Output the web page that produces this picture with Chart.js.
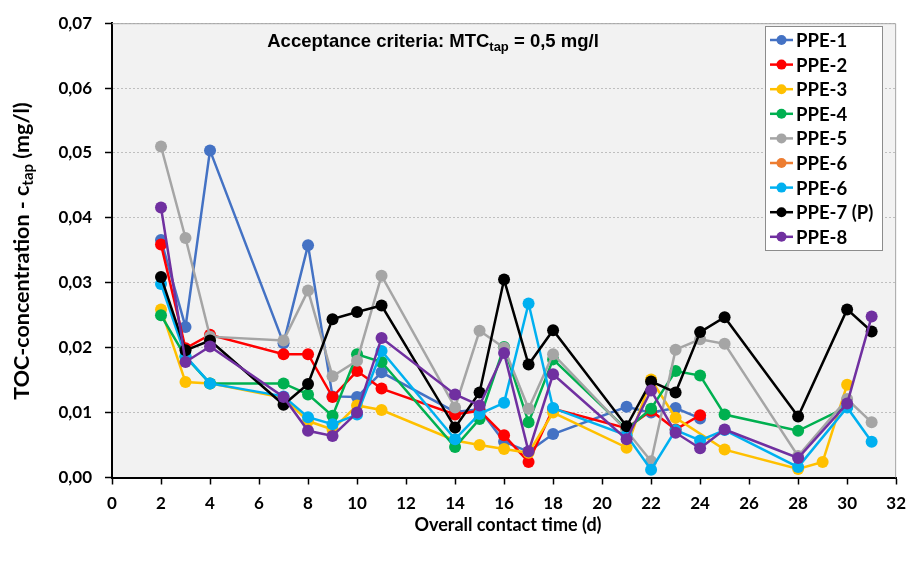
<!DOCTYPE html>
<html>
<head>
<meta charset="utf-8">
<script src="https://cdn.jsdelivr.net/npm/chart.js@4.4.1/dist/chart.umd.min.js"></script>
<style>
  html, body { margin: 0; background: #fff; }
  #wrap { width: 915px; height: 565px; }
</style>
</head>
<body>
<div id="wrap"><canvas id="toc" width="915" height="565"></canvas></div>
<script>
// Contact time (days) at which tap water samples were taken
const days = [2, 3, 4, 7, 8, 9, 10, 11, 14, 15, 16, 17, 18, 21, 22, 23, 24, 25, 28, 29, 30, 31];

// TOC concentration c_tap (mg/l) per pipe sample, null = not measured
const ppe1  = [0.0366, 0.0232, 0.0504, 0.0207, 0.0358, 0.0125, 0.0124, 0.0162, 0.0101, 0.0105, 0.0055, 0.0040, 0.0067, 0.0109, 0.0100, 0.0107, 0.0091, null, null, null, null, null];
const ppe2  = [0.0359, 0.0199, 0.0220, 0.0190, 0.0190, 0.0124, 0.0164, 0.0137, 0.0097, 0.0103, 0.0065, 0.0024, 0.0106, 0.0076, 0.0103, 0.0074, 0.0096, null, null, null, null, null];
const ppe3  = [0.0259, 0.0147, 0.0145, 0.0123, 0.0087, 0.0074, 0.0111, 0.0104, 0.0057, 0.0050, 0.0044, 0.0038, 0.0100, 0.0046, 0.0151, 0.0092, null, 0.0043, 0.0013, 0.0024, 0.0143, null];
const ppe4  = [0.0250, 0.0186, 0.0145, 0.0145, 0.0128, 0.0095, 0.0190, 0.0178, 0.0047, 0.0090, 0.0201, 0.0085, 0.0182, 0.0074, 0.0106, 0.0164, 0.0157, 0.0097, 0.0072, null, 0.0109, null];
const ppe5  = [0.0510, 0.0369, 0.0217, 0.0211, 0.0288, 0.0156, 0.0180, 0.0311, 0.0108, 0.0226, 0.0200, 0.0106, 0.0190, 0.0072, 0.0025, 0.0197, 0.0213, 0.0206, 0.0033, null, 0.0121, 0.0085];
const ppe6o = [];
const ppe6  = [0.0298, 0.0187, 0.0145, 0.0125, 0.0093, 0.0082, 0.0097, 0.0195, 0.0059, 0.0098, 0.0115, 0.0268, 0.0107, 0.0065, 0.0012, 0.0073, 0.0057, 0.0073, 0.0016, null, 0.0108, 0.0055];
const ppe7  = [0.0309, 0.0196, 0.0211, 0.0112, 0.0144, 0.0244, 0.0255, 0.0265, 0.0077, 0.0131, 0.0305, 0.0174, 0.0227, 0.0079, 0.0148, 0.0131, 0.0224, 0.0247, 0.0094, null, 0.0259, 0.0225];
const ppe8  = [0.0416, 0.0178, 0.0202, 0.0124, 0.0072, 0.0064, 0.0100, 0.0215, 0.0128, 0.0111, 0.0192, 0.0040, 0.0159, 0.0059, 0.0134, 0.0069, 0.0045, 0.0074, 0.0030, null, 0.0114, 0.0248];

const labels = ['PPE-1', 'PPE-2', 'PPE-3', 'PPE-4', 'PPE-5', 'PPE-6', 'PPE-6', 'PPE-7 (P)', 'PPE-8'];
const values = [ppe1, ppe2, ppe3, ppe4, ppe5, ppe6o, ppe6, ppe7, ppe8];
const colors = ['#4472C4', '#FF0000', '#FFC000', '#00B050', '#A5A5A5', '#ED7D31', '#00B0F0', '#000000', '#7030A0'];

const yTicks = { min: 0, max: 0.07, step: 0.01 };
const xTicks = { min: 0, max: 32, step: 2 };

const FONT = 'Lato, "Open Sans", sans-serif';

const toPoints = (arr) => days.map((d, i) => ({ x: d, y: arr[i] })).filter((p) => p.y != null);

const datasets = values.map((arr, i) => ({
  label: labels[i],
  data: toPoints(arr),
  borderColor: colors[i],
  backgroundColor: colors[i],
  pointBackgroundColor: colors[i],
  pointBorderColor: colors[i],
  borderWidth: 2.5,
  pointRadius: 6,
  pointBorderWidth: 0,
  tension: 0,
  order: values.length - i, // later series sit on top
}));

// text with a subscript run, e.g. MTC_tap
function richText(ctx, parts, x, y, size, family, align) {
  const fontOf = (p) => `bold ${p.sub ? Math.round(size * 0.68) : size}px ${family}`;
  let w = 0;
  parts.forEach((p) => { ctx.font = fontOf(p); w += ctx.measureText(p.t).width; });
  let cx = align === 'center' ? x - w / 2 : x;
  ctx.textAlign = 'left';
  ctx.textBaseline = 'middle';
  parts.forEach((p) => {
    ctx.font = fontOf(p);
    ctx.fillText(p.t, cx, p.sub ? y + size * 0.3 : y);
    cx += ctx.measureText(p.t).width;
  });
}

const decor = {
  id: 'decor',
  beforeDraw(chart) {
    const { ctx, chartArea: a } = chart;
    ctx.save();
    ctx.fillStyle = '#F2F2F2';
    ctx.fillRect(a.left, a.top, a.right - a.left, a.bottom - a.top);
    ctx.restore();
  },
  afterDraw(chart) {
    const { ctx, chartArea: a } = chart;
    ctx.save();
    // plot frame on top and right
    ctx.strokeStyle = '#A6A6A6';
    ctx.lineWidth = 1;
    ctx.beginPath();
    ctx.moveTo(a.left, a.top + 0.5);
    ctx.lineTo(a.right - 0.5, a.top + 0.5);
    ctx.lineTo(a.right - 0.5, a.bottom);
    ctx.stroke();

    ctx.fillStyle = '#000';
    richText(ctx, [{ t: 'Acceptance criteria: MTC' }, { t: 'tap', sub: true }, { t: ' = 0,5 mg/l' }],
      433, 42, 18.5, '"Liberation Sans Narrow", "Liberation Sans", sans-serif', 'center');

    // axis titles
    ctx.font = `bold 18px ${FONT}`;
    ctx.textAlign = 'center';
    ctx.textBaseline = 'middle';
    ctx.fillText('Overall contact time (d)', 508, 525);

    ctx.save();
    ctx.translate(22, 251);
    ctx.rotate(-Math.PI / 2);
    richText(ctx, [{ t: 'TOC-concentration - c' }, { t: 'tap', sub: true }, { t: ' (mg/l)' }], 0, 0, 21.5, FONT, 'center');
    ctx.restore();

    // legend box
    const lx = 765, ly = 26, lw = 117, lh = 224, step = 24.6;
    ctx.fillStyle = '#fff';
    ctx.fillRect(lx, ly, lw, lh);
    ctx.strokeStyle = '#8C8C8C';
    ctx.strokeRect(lx + 0.5, ly + 0.5, lw, lh);
    labels.forEach((lab, i) => {
      const y = 40 + i * step;
      ctx.strokeStyle = colors[i];
      ctx.lineWidth = 2.5;
      ctx.beginPath();
      ctx.moveTo(770, y);
      ctx.lineTo(793, y);
      ctx.stroke();
      ctx.fillStyle = colors[i];
      ctx.beginPath();
      ctx.arc(781.5, y, 5, 0, Math.PI * 2);
      ctx.fill();
      ctx.fillStyle = '#000';
      ctx.font = `bold 18.5px ${FONT}`;
      ctx.textAlign = 'left';
      ctx.textBaseline = 'middle';
      ctx.fillText(lab, 796, y + 1);
    });
    ctx.restore();
  },
};

new Chart(document.getElementById('toc'), {
  type: 'line',
  data: { datasets },
  plugins: [decor],
  options: {
    responsive: false,
    animation: false,
    devicePixelRatio: 1,
    spanGaps: true,
    layout: { padding: { top: 19, right: 14, bottom: 0, left: 0 } },
    plugins: { legend: { display: false }, tooltip: { enabled: false } },
    scales: {
      x: {
        type: 'linear',
        min: xTicks.min,
        max: xTicks.max,
        afterFit: (s) => { s.height = 87.5; },
        ticks: { stepSize: xTicks.step, color: '#000', font: { family: FONT, size: 17, weight: 'bold' }, padding: 9, maxRotation: 0 },
        grid: { drawOnChartArea: false, drawTicks: true, tickLength: 7, tickColor: '#000', tickWidth: 1.5 },
        border: { color: '#000', width: 2 },
      },
      y: {
        min: yTicks.min,
        max: yTicks.max,
        afterFit: (s) => { s.width = 112; },
        ticks: {
          stepSize: yTicks.step,
          color: '#000',
          font: { family: FONT, size: 17, weight: 'bold' },
          padding: 13,
          callback: (v) => v.toFixed(2).replace('.', ','),
        },
        grid: { color: '#BFBFBF', lineWidth: 1, drawTicks: true, tickLength: 7, tickColor: '#000', tickWidth: 1.5 },
        border: { color: '#000', width: 2, dash: [2, 2] },
      },
    },
  },
});
</script>
</body>
</html>
